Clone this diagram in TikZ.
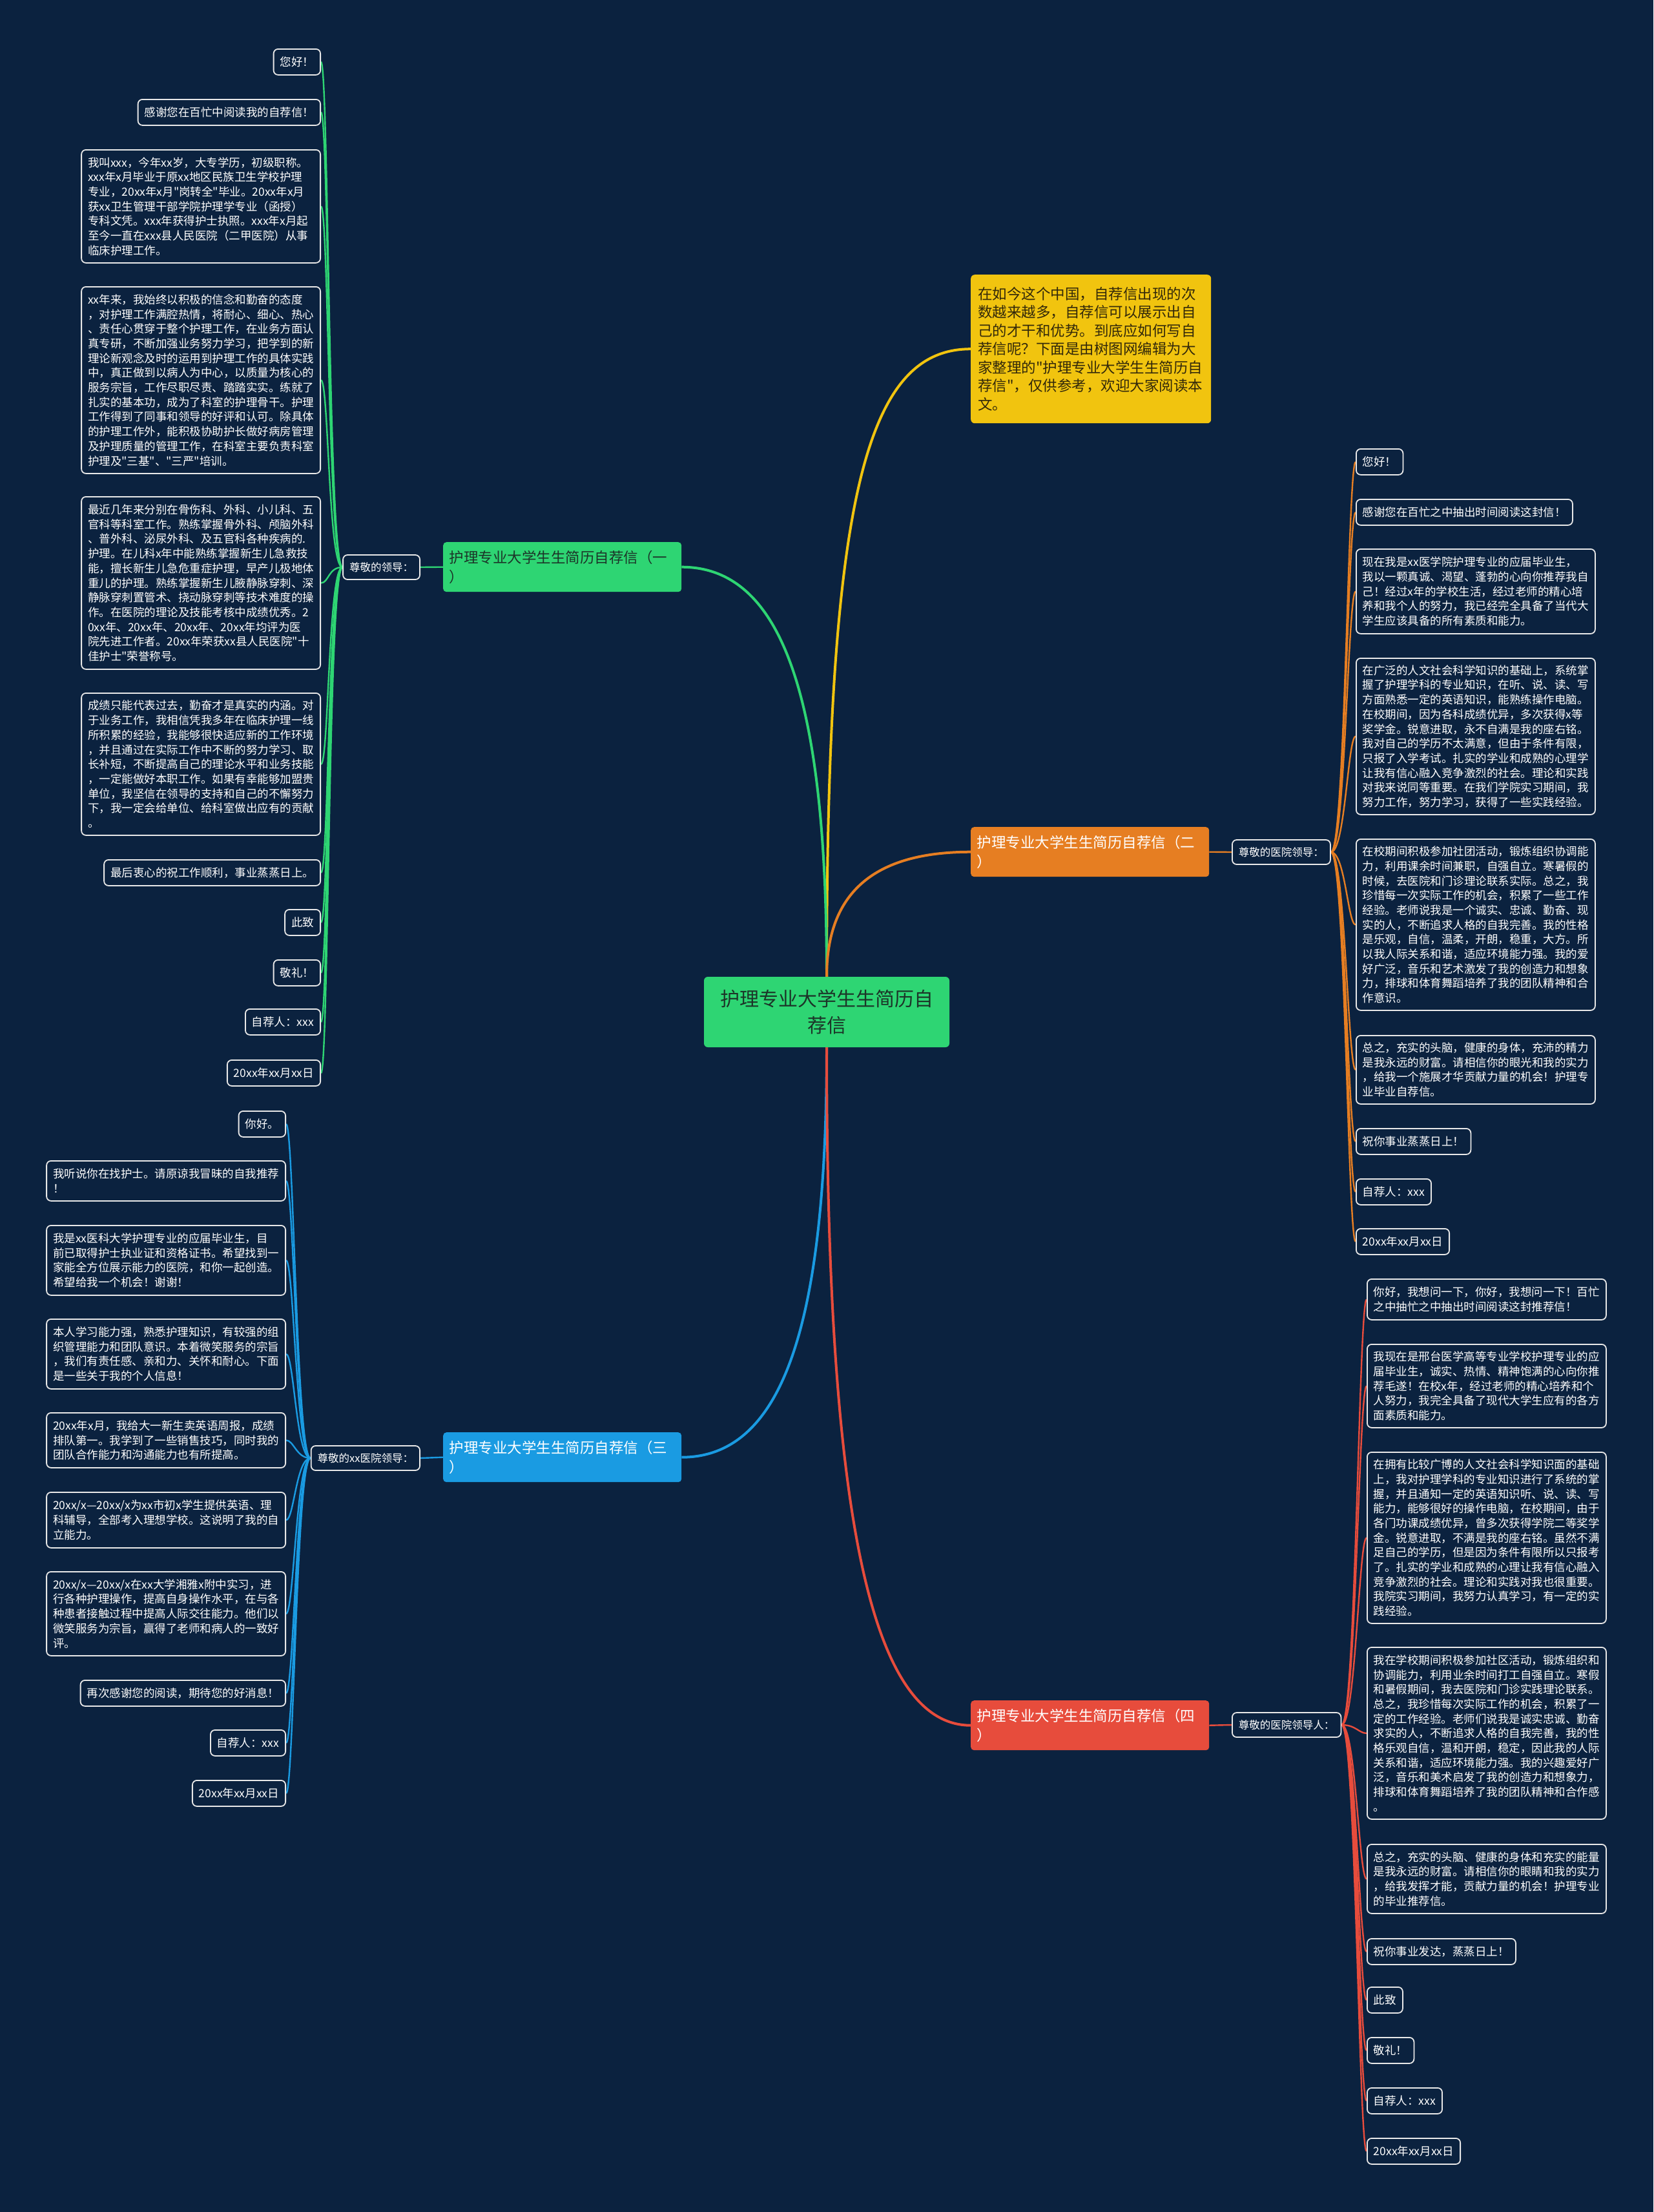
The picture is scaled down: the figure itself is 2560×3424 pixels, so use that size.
\documentclass[tikz,border=0pt]{standalone}
\usepackage{fontspec}
\setmainfont{Noto Sans CJK SC}[Ligatures=TeXOff]
\hyphenpenalty=10000 \exhyphenpenalty=10000 \hfuzz=200pt \hbadness=10000
\pgfdeclarelayer{bg}
\pgfsetlayers{bg,main}
\definecolor{bgc}{RGB}{11,34,63}
\definecolor{cgreen}{RGB}{46,213,115}
\definecolor{cyellow}{RGB}{241,196,15}
\definecolor{corange}{RGB}{230,126,34}
\definecolor{cblue}{RGB}{26,155,226}
\definecolor{cred}{RGB}{231,76,60}
\definecolor{leafline}{RGB}{232,232,232}
\definecolor{darktext}{RGB}{28,52,40}
\definecolor{introtext}{RGB}{50,40,10}
\newcommand\leaffont{\fontsize{17.5pt}{22.7pt}\selectfont}
\newcommand\labfont{\fontsize{16.5pt}{20pt}\selectfont}
\newcommand\brfont{\fontsize{22.5pt}{30pt}\selectfont}
\newcommand\introfont{\fontsize{22.5pt}{28.5pt}\selectfont}
\newcommand\rootfont{\fontsize{30pt}{41pt}\selectfont}
\tikzset{
  leaf/.style={draw=leafline, line width=1.8pt, rounded corners=7pt, fill=bgc, text=white,
    font=\leaffont, inner xsep=10pt, inner ysep=5pt, minimum height=40pt, align=left},
  wide/.style={text width=350pt},
  lab/.style={draw=leafline, line width=1.8pt, rounded corners=7pt, fill=bgc, text=white,
    font=\labfont, inner xsep=10pt, inner ysep=5pt, minimum height=38pt},
  branch/.style={rounded corners=5pt, font=\brfont, text width=350pt, align=left,
    inner xsep=9.5pt, inner ysep=4pt, minimum height=77pt},
  mainline/.style={line width=4pt},
  subline/.style={line width=2.4pt},
}
\begin{document}
\begin{tikzpicture}[x=1pt,y=-1pt]
\begin{pgfonlayer}{bg}
\fill[bgc] (0,0) rectangle (2560,3424);
\end{pgfonlayer}
\useasboundingbox (0,0) rectangle (2560,3424);

% root
\node[fill=cgreen, rounded corners=6pt, minimum width=380pt, minimum height=109pt,
  font=\rootfont, text=darktext, align=center] (root) at (1280,1566.5)
  {护理专业大学生生简历自\\荐信};

% intro
\node[fill=cyellow, rounded corners=6pt, anchor=north west, text width=350pt, inner xsep=11pt,
  minimum height=230pt, font=\introfont, text=introtext, align=left] (intro) at (1503,425)
  {在如今这个中国，自荐信出现的次\\数越来越多，自荐信可以展示出自\\己的才干和优势。到底应如何写自\\荐信呢？下面是由树图网编辑为大\\家整理的"护理专业大学生生简历自\\荐信"，仅供参考，欢迎大家阅读本\\文。};

% branch nodes
\node[branch, fill=cgreen, text=darktext, anchor=north west] (b1) at (686,839) {护理专业大学生生简历自荐信（一\\）};
\node[branch, fill=corange, text=white, anchor=north west] (b2) at (1503,1280) {护理专业大学生生简历自荐信（二\\）};
\node[branch, fill=cblue, text=white, anchor=north west] (b3) at (686,2217) {护理专业大学生生简历自荐信（三\\）};
\node[branch, fill=cred, text=white, anchor=north west] (b4) at (1503,2632) {护理专业大学生生简历自荐信（四\\）};

% labels
\node[lab, anchor=east] (lab1) at (651,878) {尊敬的领导：};
\node[lab, anchor=west] (lab2) at (1907,1319) {尊敬的医院领导：};
\node[lab, anchor=east] (lab3) at (651,2257) {尊敬的xx医院领导：};
\node[lab, anchor=west] (lab4) at (1907,2670) {尊敬的医院领导人：};

% branch 1 leaves
\node[leaf, anchor=north east] (L1) at (497,75) {您好！};
\node[leaf, anchor=north east] (L2) at (497,153) {感谢您在百忙中阅读我的自荐信！};
\node[leaf, wide, anchor=north east, minimum height=175pt] (L3) at (497,231) {我叫xxx，今年xx岁，大专学历，初级职称。\\xxx年x月毕业于原xx地区民族卫生学校护理\\专业，20xx年x月"岗转全"毕业。20xx年x月\\获xx卫生管理干部学院护理学专业（函授）\\专科文凭。xxx年获得护士执照。xxx年x月起\\至今一直在xxx县人民医院（二甲医院）从事\\临床护理工作。};
\node[leaf, wide, anchor=north east, minimum height=289pt] (L4) at (497,443) {xx年来，我始终以积极的信念和勤奋的态度\\，对护理工作满腔热情，将耐心、细心、热心\\、责任心贯穿于整个护理工作，在业务方面认\\真专研，不断加强业务努力学习，把学到的新\\理论新观念及时的运用到护理工作的具体实践\\中，真正做到以病人为中心，以质量为核心的\\服务宗旨，工作尽职尽责、踏踏实实。练就了\\扎实的基本功，成为了科室的护理骨干。护理\\工作得到了同事和领导的好评和认可。除具体\\的护理工作外，能积极协助护长做好病房管理\\及护理质量的管理工作，在科室主要负责科室\\护理及"三基"、"三严"培训。};
\node[leaf, wide, anchor=north east, minimum height=267pt] (L5) at (497,768) {最近几年来分别在骨伤科、外科、小儿科、五\\官科等科室工作。熟练掌握骨外科、颅脑外科\\、普外科、泌尿外科、及五官科各种疾病的.\\护理。在儿科x年中能熟练掌握新生儿急救技\\能，擅长新生儿急危重症护理，早产儿极地体\\重儿的护理。熟练掌握新生儿腋静脉穿刺、深\\静脉穿刺置管术、挠动脉穿刺等技术难度的操\\作。在医院的理论及技能考核中成绩优秀。2\\0xx年、20xx年、20xx年、20xx年均评为医\\院先进工作者。20xx年荣获xx县人民医院"十\\佳护士"荣誉称号。};
\node[leaf, wide, anchor=north east, minimum height=220pt] (L6) at (497,1072) {成绩只能代表过去，勤奋才是真实的内涵。对\\于业务工作，我相信凭我多年在临床护理一线\\所积累的经验，我能够很快适应新的工作环境\\，并且通过在实际工作中不断的努力学习、取\\长补短，不断提高自己的理论水平和业务技能\\，一定能做好本职工作。如果有幸能够加盟贵\\单位，我坚信在领导的支持和自己的不懈努力\\下，我一定会给单位、给科室做出应有的贡献\\。};
\node[leaf, anchor=north east] (L7) at (497,1330) {最后衷心的祝工作顺利，事业蒸蒸日上。};
\node[leaf, anchor=north east] (L8) at (497,1407) {此致};
\node[leaf, anchor=north east] (L9) at (497,1485) {敬礼！};
\node[leaf, anchor=north east] (L10) at (497,1561) {自荐人：xxx};
\node[leaf, anchor=north east] (L11) at (497,1640) {20xx年xx月xx日};

% branch 2 leaves
\node[leaf, anchor=north west] (R1) at (2099,694) {您好！};
\node[leaf, anchor=north west] (R2) at (2099,772) {感谢您在百忙之中抽出时间阅读这封信！};
\node[leaf, wide, anchor=north west, minimum height=131pt] (R3) at (2099,849) {现在我是xx医学院护理专业的应届毕业生，\\我以一颗真诚、渴望、蓬勃的心向你推荐我自\\己！经过x年的学校生活，经过老师的精心培\\养和我个人的努力，我已经完全具备了当代大\\学生应该具备的所有素质和能力。};
\node[leaf, wide, anchor=north west, minimum height=242pt] (R4) at (2099,1018) {在广泛的人文社会科学知识的基础上，系统掌\\握了护理学科的专业知识，在听、说、读、写\\方面熟悉一定的英语知识，能熟练操作电脑。\\在校期间，因为各科成绩优异，多次获得x等\\奖学金。锐意进取，永不自满是我的座右铭。\\我对自己的学历不太满意，但由于条件有限，\\只报了入学考试。扎实的学业和成熟的心理学\\让我有信心融入竞争激烈的社会。理论和实践\\对我来说同等重要。在我们学院实习期间，我\\努力工作，努力学习，获得了一些实践经验。};
\node[leaf, wide, anchor=north west, minimum height=265pt] (R5) at (2099,1298) {在校期间积极参加社团活动，锻炼组织协调能\\力，利用课余时间兼职，自强自立。寒暑假的\\时候，去医院和门诊理论联系实际。总之，我\\珍惜每一次实际工作的机会，积累了一些工作\\经验。老师说我是一个诚实、忠诚、勤奋、现\\实的人，不断追求人格的自我完善。我的性格\\是乐观，自信，温柔，开朗，稳重，大方。所\\以我人际关系和谐，适应环境能力强。我的爱\\好广泛，音乐和艺术激发了我的创造力和想象\\力，排球和体育舞蹈培养了我的团队精神和合\\作意识。};
\node[leaf, wide, anchor=north west, minimum height=106pt] (R6) at (2099,1602) {总之，充实的头脑，健康的身体，充沛的精力\\是我永远的财富。请相信你的眼光和我的实力\\，给我一个施展才华贡献力量的机会！护理专\\业毕业自荐信。};
\node[leaf, anchor=north west] (R7) at (2099,1746) {祝你事业蒸蒸日上！};
\node[leaf, anchor=north west] (R8) at (2099,1824) {自荐人：xxx};
\node[leaf, anchor=north west] (R9) at (2099,1901) {20xx年xx月xx日};

% branch 3 leaves
\node[leaf, anchor=north east] (B1) at (443,1719) {你好。};
\node[leaf, wide, anchor=north east, minimum height=62pt] (B2) at (443,1796) {我听说你在找护士。请原谅我冒昧的自我推荐\\！};
\node[leaf, wide, anchor=north east, minimum height=108pt] (B3) at (443,1896) {我是xx医科大学护理专业的应届毕业生，目\\前已取得护士执业证和资格证书。希望找到一\\家能全方位展示能力的医院，和你一起创造。\\希望给我一个机会！谢谢！};
\node[leaf, wide, anchor=north east, minimum height=108pt] (B4) at (443,2041) {本人学习能力强，熟悉护理知识，有较强的组\\织管理能力和团队意识。本着微笑服务的宗旨\\，我们有责任感、亲和力、关怀和耐心。下面\\是一些关于我的个人信息！};
\node[leaf, wide, anchor=north east, minimum height=85pt] (B5) at (443,2186) {20xx年x月，我给大一新生卖英语周报，成绩\\排队第一。我学到了一些销售技巧，同时我的\\团队合作能力和沟通能力也有所提高。};
\node[leaf, wide, anchor=north east, minimum height=86pt] (B6) at (443,2309) {20xx/x—20xx/x为xx市初x学生提供英语、理\\科辅导，全部考入理想学校。这说明了我的自\\立能力。};
\node[leaf, wide, anchor=north east, minimum height=130pt] (B7) at (443,2432) {20xx/x—20xx/x在xx大学湘雅x附中实习，进\\行各种护理操作，提高自身操作水平，在与各\\种患者接触过程中提高人际交往能力。他们以\\微笑服务为宗旨，赢得了老师和病人的一致好\\评。};
\node[leaf, anchor=north east] (B8) at (443,2600) {再次感谢您的阅读，期待您的好消息！};
\node[leaf, anchor=north east] (B9) at (443,2677) {自荐人：xxx};
\node[leaf, anchor=north east] (B10) at (443,2755) {20xx年xx月xx日};

% branch 4 leaves
\node[leaf, wide, anchor=north west, minimum height=63pt] (D1) at (2116,1979) {你好，我想问一下，你好，我想问一下！百忙\\之中抽忙之中抽出时间阅读这封推荐信！};
\node[leaf, wide, anchor=north west, minimum height=129pt] (D2) at (2116,2080) {我现在是邢台医学高等专业学校护理专业的应\\届毕业生，诚实、热情、精神饱满的心向你推\\荐毛遂！在校x年，经过老师的精心培养和个\\人努力，我完全具备了现代大学生应有的各方\\面素质和能力。};
\node[leaf, wide, anchor=north west, minimum height=265pt] (D3) at (2116,2247) {在拥有比较广博的人文社会科学知识面的基础\\上，我对护理学科的专业知识进行了系统的掌\\握，并且通知一定的英语知识听、说、读、写\\能力，能够很好的操作电脑，在校期间，由于\\各门功课成绩优异，曾多次获得学院二等奖学\\金。锐意进取，不满是我的座右铭。虽然不满\\足自己的学历，但是因为条件有限所以只报考\\了。扎实的学业和成熟的心理让我有信心融入\\竞争激烈的社会。理论和实践对我也很重要。\\我院实习期间，我努力认真学习，有一定的实\\践经验。};
\node[leaf, wide, anchor=north west, minimum height=266pt] (D4) at (2116,2549) {我在学校期间积极参加社区活动，锻炼组织和\\协调能力，利用业余时间打工自强自立。寒假\\和暑假期间，我去医院和门诊实践理论联系。\\总之，我珍惜每次实际工作的机会，积累了一\\定的工作经验。老师们说我是诚实忠诚、勤奋\\求实的人，不断追求人格的自我完善，我的性\\格乐观自信，温和开朗，稳定，因此我的人际\\关系和谐，适应环境能力强。我的兴趣爱好广\\泛，音乐和美术启发了我的创造力和想象力，\\排球和体育舞蹈培养了我的团队精神和合作感\\。};
\node[leaf, wide, anchor=north west, minimum height=107pt] (D5) at (2116,2854) {总之，充实的头脑、健康的身体和充实的能量\\是我永远的财富。请相信你的眼睛和我的实力\\，给我发挥才能，贡献力量的机会！护理专业\\的毕业推荐信。};
\node[leaf, anchor=north west] (D6) at (2116,3000) {祝你事业发达，蒸蒸日上！};
\node[leaf, anchor=north west] (D7) at (2116,3075) {此致};
\node[leaf, anchor=north west] (D8) at (2116,3153) {敬礼！};
\node[leaf, anchor=north west] (D9) at (2116,3231) {自荐人：xxx};
\node[leaf, anchor=north west] (D10) at (2116,3309) {20xx年xx月xx日};

% connectors
\begin{pgfonlayer}{bg}
\draw[mainline, cyellow] (root.north) .. controls +(0,-750) and +(-160,0) .. (intro.west);
\draw[mainline, cgreen] (root.north) .. controls +(0,-420) and +(160,0) .. (b1.east);
\draw[mainline, corange] (root.north) .. controls +(0,-130) and +(-150,0) .. (b2.west);
\draw[mainline, cblue] (root.south) .. controls +(0,420) and +(160,0) .. (b3.east);
\draw[mainline, cred] (root.south) .. controls +(0,700) and +(-160,0) .. (b4.west);

\draw[subline, cgreen] (b1.west) -- (lab1.east);
\draw[subline, corange] (b2.east) -- (lab2.west);
\draw[subline, cblue] (b3.west) -- (lab3.east);
\draw[subline, cred] (b4.east) -- (lab4.west);

\foreach \n in {L1,L2,L3,L4,L5,L6,L7,L8,L9,L10,L11}
  \draw[subline, cgreen] (lab1.west) .. controls +(-22,0) and +(12,0) .. (\n.east);
\foreach \n in {R1,R2,R3,R4,R5,R6,R7,R8,R9}
  \draw[subline, corange] (lab2.east) .. controls +(22,0) and +(-12,0) .. (\n.west);
\foreach \n in {B1,B2,B3,B4,B5,B6,B7,B8,B9,B10}
  \draw[subline, cblue] (lab3.west) .. controls +(-22,0) and +(12,0) .. (\n.east);
\foreach \n in {D1,D2,D3,D4,D5,D6,D7,D8,D9,D10}
  \draw[subline, cred] (lab4.east) .. controls +(22,0) and +(-12,0) .. (\n.west);
\end{pgfonlayer}
\end{tikzpicture}
\end{document}
